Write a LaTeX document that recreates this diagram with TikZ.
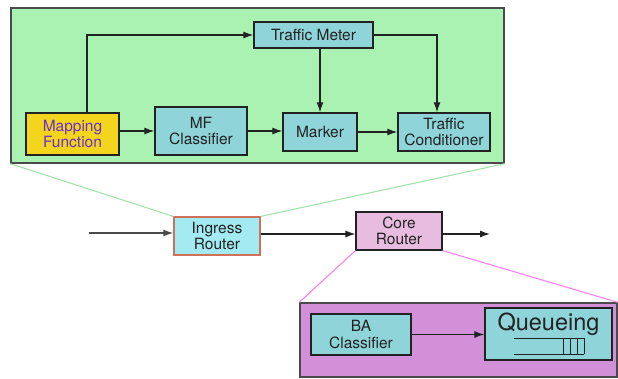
\documentclass[tikz,border=0pt]{standalone}
\usepackage{fontspec}
\setmainfont{TeX Gyre Heros}
\usepackage{tikz}
\usetikzlibrary{arrows.meta, positioning}
\definecolor{ink}{HTML}{222222}
\definecolor{frame}{HTML}{4A4A4A}
\definecolor{condfill}{HTML}{A9F2B1}
\definecolor{condline}{HTML}{A3E3AA}
\definecolor{unitfill}{HTML}{8ED4D9}
\definecolor{mapfill}{HTML}{F2D51C}
\definecolor{maptext}{HTML}{6A2ED0}
\definecolor{ingfill}{HTML}{A3EAF2}
\definecolor{ingline}{HTML}{D07058}
\definecolor{corefill}{HTML}{E8BCE0}
\definecolor{schedfill}{HTML}{D290D8}
\definecolor{schedline}{HTML}{FF80F0}
\tikzset{
  font=\fontsize{15.5}{16.5}\selectfont,
  >={Latex[length=10pt, width=7pt]},
  %
  unit/.style={
    draw=ink, line width=1.3pt, fill=unitfill, align=center, text=ink,
    inner sep=1pt,
  },
  mapunit/.style={unit, fill=mapfill, text=maptext},
  router/.style={unit, line width=1.1pt},
  panel/.style={draw=frame, line width=1.4pt, inner sep=0pt},
  %
  flow/.style={draw=ink, line width=1.2pt, ->},
  zoomline/.style={line width=1.1pt},
}
\begin{document}
\begin{tikzpicture}[x=1pt, y=-1pt]
  \useasboundingbox (0,0) rectangle (618,379);

  % conditioner block of the ingress router
  \node[panel, fill=condfill, minimum width=493pt, minimum height=155pt]
    (cond) at (257.5,85.5) {};
  \node[unit, minimum width=119pt, minimum height=26pt]
    (meter) at (313.5,35) {Traffic Meter};
  \node[mapunit, minimum width=93pt, minimum height=42pt]
    (map) at (72.5,134) {Mapping\\Function};
  \node[unit, minimum width=92pt, minimum height=48pt]
    (mfc) at (201,131) {MF\\Classifier};
  \node[unit, minimum width=74pt, minimum height=38pt]
    (marker) at (320,132) {Marker};
  \node[unit, minimum width=92pt, minimum height=38pt]
    (tcond) at (444,132) {Traffic\\Conditioner};

  \draw[flow] (map.north -| 87,0) |- (meter.west);
  \draw[flow] (map.east |- mfc) -- (mfc.west);
  \draw[flow] (mfc.east) -- (marker.west |- mfc.east);
  \draw[flow] (meter.south -| marker.north) -- (marker.north);
  \draw[flow] (marker) -- (tcond.west |- marker);
  \draw[flow] (meter.east) -| (437,0 |- tcond.north);

  % routers along the path
  \coordinate (src) at (89,233);
  \coordinate (dst) at (490,234);
  \node[router, draw=ingline, fill=ingfill, minimum width=86pt, minimum height=38pt]
    (ingress) at (217,236) {Ingress\\Router};
  \node[router, fill=corefill, minimum width=86pt, minimum height=38pt]
    (core) at (399,231) {Core\\Router};

  \draw[flow, draw=frame, line width=1.6pt] (src) -- (src -| ingress.west);
  \draw[flow] (ingress.east |- dst) -- (core.west |- dst);
  \draw[flow] (core.east |- dst) -- (dst);

  \draw[zoomline, condline] (cond.south west) -- (ingress.north west);
  \draw[zoomline, condline] (cond.south east) -- (ingress.north east);

  % scheduler block of the core router
  \node[panel, fill=schedfill, minimum width=317pt, minimum height=74pt]
    (sched) at (458.5,340) {};
  \draw[zoomline, schedline] (core.south west) -- (sched.north west);
  \draw[zoomline, schedline] (core.south east) -- (sched.north east);

  \node[unit, minimum width=100pt, minimum height=41pt]
    (ba) at (361,334.5) {BA\\Classifier};
  \node[unit, minimum width=127pt, minimum height=52pt]
    (queue) at (548.5,334) {};
  \node[text=ink, font=\fontsize{23.5}{25}\selectfont, inner sep=0pt]
    (qlabel) at (548.5,324) {Queueing};
  \draw[ink, line width=1pt]
    ([xshift=-34.5pt, yshift=-4pt]queue.center) -- ++(70,0)
    ([xshift=-34.5pt, yshift=-20pt]queue.center) -- ++(70,0);
  \foreach \dx in {14.5,21.5,28.5,35.5}
    \draw[ink, line width=1pt]
      ([xshift=\dx pt, yshift=-4pt]queue.center) -- ++(0,16);

  \draw[flow] (ba) -- (queue.west |- ba);

\end{tikzpicture}
\end{document}
